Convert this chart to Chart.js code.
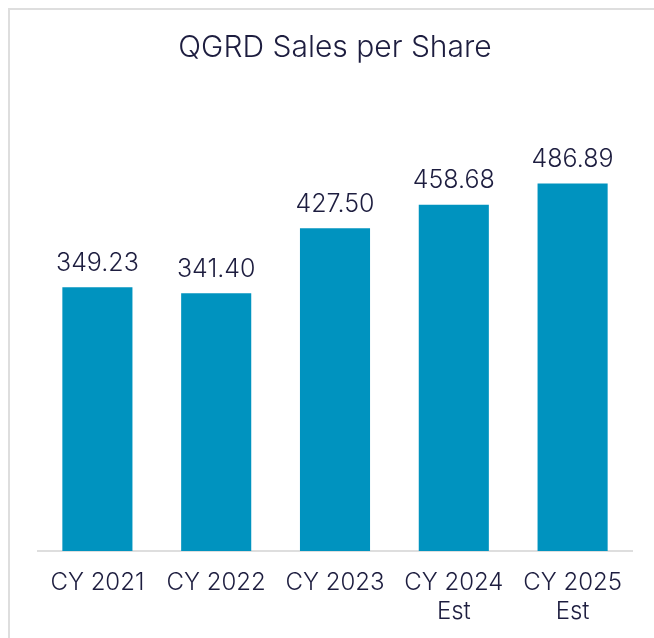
<!DOCTYPE html>
<html>
<head>
<meta charset="utf-8">
<script src="https://cdn.jsdelivr.net/npm/chart.js@4/dist/chart.umd.min.js"></script>
<style>
  body { margin: 0; background: #fff; }
  #wrap { position: relative; width: 654px; height: 638px; }
  #frame { position: absolute; left: 8px; top: 8px; right: 0; bottom: 0;
           border-top: 2px solid #dedede; border-left: 2px solid #dedede; }
  canvas { position: absolute; left: 0; top: 0; }
</style>
</head>
<body>
<div id="wrap">
  <div id="frame"></div>
  <canvas id="salesChart" width="654" height="638"></canvas>
</div>
<script>
const categories = [['CY 2021'], ['CY 2022'], ['CY 2023'], ['CY 2024', 'Est'], ['CY 2025', 'Est']];
const salesPerShare = [349.23, 341.40, 427.50, 458.68, 486.89];

const textColor = '#1d1d3f';
const barColor = '#0093bf';

// значения над столбцами
const valueLabels = {
    id: 'valueLabels',
    afterDatasetsDraw(chart) {
        const ctx = chart.ctx;
        const meta = chart.getDatasetMeta(0);
        ctx.save();
        ctx.font = '300 25px Inter';
        ctx.fillStyle = textColor;
        ctx.textAlign = 'center';
        ctx.textBaseline = 'middle';
        meta.data.forEach((bar, i) => {
            ctx.fillText(salesPerShare[i].toFixed(2), bar.x, bar.y - 24);
        });
        ctx.restore();
    }
};

const ctx = document.getElementById('salesChart').getContext('2d');
new Chart(ctx, {
    type: 'bar',
    data: {
        labels: categories,
        datasets: [{
            data: salesPerShare,
            backgroundColor: barColor,
            barPercentage: 0.59,
            categoryPercentage: 1.0
        }]
    },
    options: {
        responsive: false,
        animation: false,
        layout: { padding: { left: 38, right: 22, top: 0, bottom: -5 } },
        plugins: {
            legend: { display: false },
            tooltip: { enabled: false },
            title: {
                display: true,
                text: 'QGRD Sales per Share',
                color: textColor,
                font: { family: 'Inter', size: 30, weight: '300', lineHeight: 1.2 },
                padding: { top: 30, bottom: 32 }
            }
        },
        scales: {
            x: {
                grid: { display: false, drawTicks: false },
                border: { color: '#dedede', width: 2 },
                ticks: {
                    color: textColor,
                    font: { family: 'Inter', size: 24, weight: '300', lineHeight: 1.21 },
                    padding: 17,
                    maxRotation: 0
                }
            },
            y: {
                display: false,
                min: 0,
                max: 600
            }
        }
    },
    plugins: [valueLabels]
});
</script>
</body>
</html>
